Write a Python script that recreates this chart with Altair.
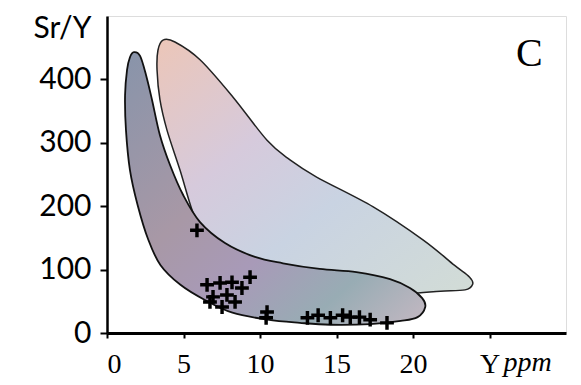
import altair as alt
import pandas as pd

# Light field outline (Y ppm, Sr/Y)
light_x = [3.66, 4.44, 6.08, 8.24, 10.46, 11.96, 13.7, 17.4, 20.65, 22.7, 23.7, 23.9, 23.4, 21.8, 19.35,
           17.2, 13.9, 11.5, 9.35, 7.4, 6.08, 5.56, 4.77, 3.92, 3.46, 3.27, 3.33]
light_y = [462, 459, 431, 372, 304, 273, 246, 199, 147, 107, 88, 77, 68, 66, 63,
           76, 87, 96, 112, 139, 170, 194, 257, 320, 368, 415, 446]

# Dark field outline
dark_x = [1.76, 2.16, 2.55, 2.94, 3.46, 4.12, 4.97, 6.08, 7.71, 9.67, 11.5, 13.9, 16.3, 18.5, 19.8,
          20.6, 20.8, 20.3, 19.2, 17.2, 14.6, 12.6, 10.5, 8.2, 6.4, 4.8, 3.5, 2.7, 2.0, 1.5,
          1.24, 1.18, 1.31, 1.5]
dark_y = [443, 437, 407, 368, 312, 265, 218, 175, 142, 120, 110, 101, 96, 85, 71,
          55, 41, 25, 19, 14, 13, 16, 21, 32, 52, 76, 107, 147, 202, 257,
          320, 375, 415, 435]

# Samples (+)
pts_x = [5.88, 9.35, 6.54, 7.39, 8.17, 8.82, 6.93, 7.84, 8.37, 6.73, 7.52, 10.46, 10.4,
         13.1, 13.8, 14.6, 15.4, 15.9, 16.5, 17.2, 18.3]
pts_y = [162, 88, 76, 79, 80, 71, 57, 60, 49, 49, 41, 33, 24,
         24, 28, 24, 28, 25, 25, 21, 16]

x_ticks = [0, 5, 10, 15, 20, 25]
y_ticks = [0, 100, 200, 300, 400]

light = pd.DataFrame({"x": light_x, "y": light_y, "i": range(len(light_x))})
dark = pd.DataFrame({"x": dark_x, "y": dark_y, "i": range(len(dark_x))})
pts = pd.DataFrame({"x": pts_x, "y": pts_y})
panel = pd.DataFrame({"x": [27.6], "y": [440], "t": ["C"]})
unit = pd.DataFrame({"x": [25], "y": [-48], "t": ["ppm"]})

xs = alt.Scale(domain=[0, 30], nice=False, zero=False)
ys = alt.Scale(domain=[0, 500], nice=False, zero=False)

xax = alt.Axis(values=x_ticks, labelExpr="datum.value == 25 ? 'Y' : datum.label",
               title=None, grid=False, domainColor="black", domainWidth=3,
               tickColor="black", tickWidth=2, tickSize=5, labelFont="Liberation Serif",
               labelFontSize=28, labelColor="black", labelPadding=12)
yax = alt.Axis(values=y_ticks, title="Sr/Y", titleAngle=0, titleX=-45, titleY=12,
               titleAlign="center", titleBaseline="middle", titleFont="Lato",
               titleFontSize=30, titleFontWeight="normal", titleColor="black",
               grid=False, domainColor="black", domainWidth=2.5, tickColor="black",
               tickWidth=2, tickSize=7, labelFont="Lato", labelFontSize=30,
               labelColor="black", labelPadding=9)

light_fill = alt.Gradient(gradient="linear", x1=0, y1=0, x2=1, y2=1, stops=[
    alt.GradientStop(color="#ecc6b8", offset=0),
    alt.GradientStop(color="#d6cadc", offset=0.35),
    alt.GradientStop(color="#c9d3e2", offset=0.6),
    alt.GradientStop(color="#d2dcd6", offset=1)])
dark_fill = alt.Gradient(gradient="linear", x1=0, y1=0, x2=1, y2=1, stops=[
    alt.GradientStop(color="#8894aa", offset=0),
    alt.GradientStop(color="#a898a6", offset=0.4),
    alt.GradientStop(color="#a89ab8", offset=0.6),
    alt.GradientStop(color="#98acb4", offset=0.8),
    alt.GradientStop(color="#c4b8c2", offset=1)])

plus = "M-1,-0.25H-0.25V-1H0.25V-0.25H1V0.25H0.25V1H-0.25V0.25H-1Z"

light_layer = alt.Chart(light).mark_line(
    interpolate="cardinal-closed", fill=light_fill, stroke="#222", strokeWidth=1.5
).encode(x=alt.X("x:Q", scale=xs, axis=xax), y=alt.Y("y:Q", scale=ys, axis=yax),
         order="i:O")

dark_layer = alt.Chart(dark).mark_line(
    interpolate="cardinal-closed", fill=dark_fill, stroke="#111", strokeWidth=1.8
).encode(x=alt.X("x:Q", scale=xs), y=alt.Y("y:Q", scale=ys), order="i:O")

pt_layer = alt.Chart(pts).mark_point(shape=plus, filled=True, color="black",
                                      size=190, opacity=1).encode(
    x=alt.X("x:Q", scale=xs), y=alt.Y("y:Q", scale=ys))

c_layer = alt.Chart(panel).mark_text(font="Liberation Serif", fontSize=40,
                                     color="black", align="center", baseline="middle").encode(
    x=alt.X("x:Q", scale=xs), y=alt.Y("y:Q", scale=ys), text="t:N")

u_layer = alt.Chart(unit).mark_text(font="Liberation Serif", fontSize=28, fontStyle="italic",
                                    color="black", align="left", baseline="middle", dx=14,
                                    clip=False).encode(
    x=alt.X("x:Q", scale=xs), y=alt.Y("y:Q", scale=ys), text="t:N")

chart = alt.layer(light_layer, dark_layer, pt_layer, c_layer, u_layer).properties(
    width=459, height=317,
    autosize=alt.AutoSizeParams(type="none"),
    padding={"left": 99, "top": 8, "right": 7, "bottom": 44},
).configure_view(stroke="black", strokeWidth=2).configure(background="white")

chart.save("out.html", embed_options={"renderer": "svg", "actions": False})
